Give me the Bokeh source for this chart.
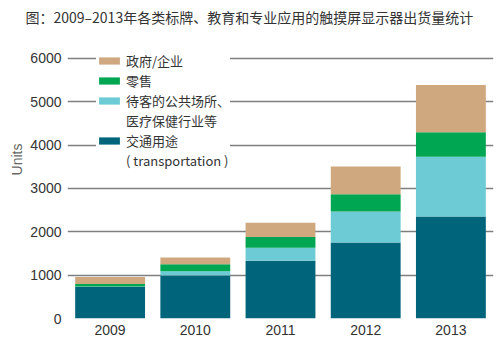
import math
from bokeh.plotting import figure
from bokeh.models import (ColumnDataSource, FactorRange, Range1d, FixedTicker,
                          Legend, LegendItem, Title)
from bokeh.embed import file_html
from bokeh.resources import INLINE

years = ["2009", "2010", "2011", "2012", "2013"]
transport = [730, 990, 1330, 1755, 2355]
public = [10, 100, 300, 715, 1375]
retail = [55, 160, 250, 400, 570]
gov = [160, 155, 330, 640, 1090]
y_ticks = [0, 1000, 2000, 3000, 4000, 5000, 6000]

series_names = ["transport", "public", "retail", "gov"]
colors = ["#00657b", "#6ccbd4", "#00a652", "#cfa880"]

title_text = "图：2009–2013年各类标牌、教育和专业应用的触摸屏显示器出货量统计"
legend_labels = {
    "gov": ["政府/企业"],
    "retail": ["零售"],
    "public": ["待客的公共场所、", "医疗保健行业等"],
    "transport": ["交通用途", "( transportation )"],
}

src = ColumnDataSource(dict(year=years, transport=transport, public=public,
                            retail=retail, gov=gov))

p = figure(width=500, height=348, x_range=FactorRange(*years),
           y_range=Range1d(0, 6646), output_backend="svg",
           toolbar_location=None, min_border_left=67, min_border_right=7,
           min_border_top=30, min_border_bottom=30)
p.outline_line_color = None
p.background_fill_color = "white"

p.title.text = title_text
p.title.align = "left"
p.title.offset = -42
p.title.text_font = "Noto Sans CJK SC"
p.title.text_font_size = "14px"
p.title.text_font_style = "normal"
p.title.text_color = "#333333"
p.title.standoff = 7

rs = p.vbar_stack(series_names, x="year", width=0.82, color=colors,
                  line_color=None, source=src)
rmap = dict(zip(series_names, rs))
blank = p.vbar(x=[], top=[], width=0.5, fill_alpha=0, line_alpha=0)

items = []
for key in ["gov", "retail", "public", "transport"]:
    labs = legend_labels[key]
    items.append(LegendItem(label=labs[0], renderers=[rmap[key]]))
    for extra in labs[1:]:
        items.append(LegendItem(label=extra, renderers=[blank]))

legend = Legend(items=items, location=(29, 148),
                label_text_font="Noto Sans CJK SC", label_text_font_size="13px",
                label_text_color="#333333", glyph_width=26, glyph_height=9,
                label_height=18, spacing=1, label_standoff=4, padding=6,
                margin=0, border_line_color=None,
                background_fill_color="white", background_fill_alpha=1)
p.add_layout(legend)

p.xgrid.grid_line_color = None
p.ygrid.grid_line_color = "#7f7f7f"
p.ygrid.grid_line_width = 1.5
p.ygrid.ticker = FixedTicker(ticks=y_ticks)

p.yaxis.ticker = FixedTicker(ticks=y_ticks)
p.yaxis.axis_line_color = None
p.yaxis.major_tick_line_color = None
p.yaxis.minor_tick_line_color = None
p.yaxis.major_tick_out = 0
p.yaxis.major_label_standoff = 6
p.yaxis.major_label_text_font = "Liberation Sans"
p.yaxis.major_label_text_font_size = "14px"
p.yaxis.major_label_text_color = "#333333"

p.xaxis.axis_line_color = None
p.xaxis.major_tick_line_color = None
p.xaxis.minor_tick_line_color = None
p.xaxis.major_tick_out = 0
p.xaxis.major_label_standoff = 6
p.xaxis.major_label_text_font = "Liberation Sans"
p.xaxis.major_label_text_font_size = "14px"
p.xaxis.major_label_text_color = "#333333"

units = Title(text="Units", align="right", offset=113,
              text_font="Liberation Sans", text_font_size="14px",
              text_font_style="normal", text_color="#666666", standoff=6)
p.add_layout(units, "left")

open("out.html", "w").write(file_html(p, INLINE))
